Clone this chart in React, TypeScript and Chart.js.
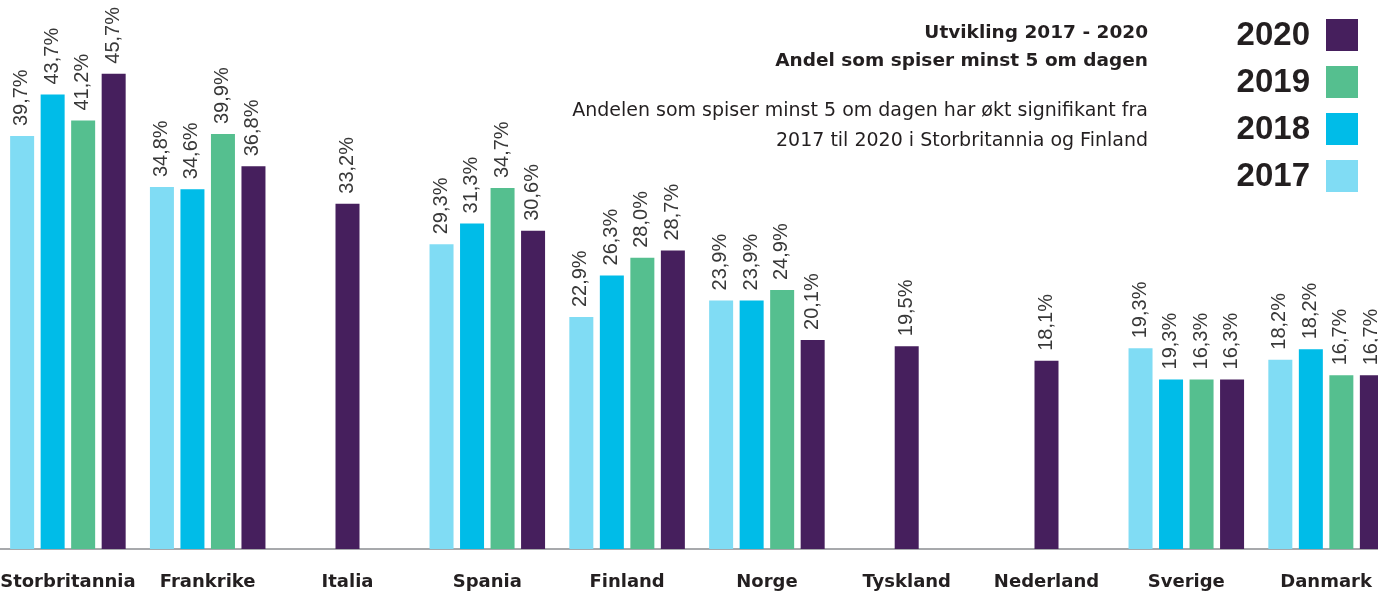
import React, { useEffect, useRef } from "react";
import { Chart, registerables } from "chart.js";

Chart.register(...registerables);

const categories = ["Storbritannia", "Frankrike", "Italia", "Spania", "Finland", "Norge", "Tyskland", "Nederland", "Sverige", "Danmark"];
const years = ["2017", "2018", "2019", "2020"];

// Bar heights as drawn
const values2017 = [39.7, 34.8, null, 29.3, 22.3, 23.9, null, null, 19.3, 18.2];
const values2018 = [43.7, 34.6, null, 31.3, 26.3, 23.9, null, null, 16.3, 19.2];
const values2019 = [41.2, 39.9, null, 34.7, 28.0, 24.9, null, null, 16.3, 16.7];
const values2020 = [45.7, 36.8, 33.2, 30.6, 28.7, 20.1, 19.5, 18.1, 16.3, 16.7];

// Value labels as printed
const labels2017 = ["39,7%", "34,8%", null, "29,3%", "22,9%", "23,9%", null, null, "19,3%", "18,2%"];
const labels2018 = ["43,7%", "34,6%", null, "31,3%", "26,3%", "23,9%", null, null, "19,3%", "18,2%"];
const labels2019 = ["41,2%", "39,9%", null, "34,7%", "28,0%", "24,9%", null, null, "16,3%", "16,7%"];
const labels2020 = ["45,7%", "36,8%", "33,2%", "30,6%", "28,7%", "20,1%", "19,5%", "18,1%", "16,3%", "16,7%"];

const titleLines = ["Utvikling 2017 - 2020", "Andel som spiser minst 5 om dagen"];
const noteLines = ["Andelen som spiser minst 5 om dagen har økt signifikant fra", "2017 til 2020 i Storbritannia og Finland"];

const colors = ["#80dcf4", "#00bce8", "#55bf8f", "#461f5d"];
const TEXT = "#231f20";
const SHIFT = 2; // container shifted left

export default function App() {
  const ref = useRef<HTMLCanvasElement | null>(null);

  useEffect(() => {
    document.body.style.margin = "0";
    document.body.style.overflow = "hidden";
    const valueSets = [values2017, values2018, values2019, values2020];
    const labelSets = [labels2017, labels2018, labels2019, labels2020];

    const valueLabelPlugin = {
      id: "valueLabels",
      afterDatasetsDraw(chart: any) {
        const ctx = chart.ctx;
        ctx.save();
        ctx.fillStyle = "#383838";
        ctx.font = "20px 'Liberation Sans', Arial, sans-serif";
        ctx.textAlign = "left";
        ctx.textBaseline = "alphabetic";
        chart.data.datasets.forEach((ds: any, di: number) => {
          const meta = chart.getDatasetMeta(di);
          meta.data.forEach((el: any, i: number) => {
            const lbl = labelSets[di][i];
            if (lbl == null || ds.data[i] == null) return;
            ctx.save();
            ctx.translate(el.x + 5, el.y - 10);
            ctx.rotate(-Math.PI / 2);
            ctx.fillText(lbl, 0, 0);
            ctx.restore();
          });
        });
        ctx.restore();
      },
    };

    const annotationPlugin = {
      id: "annotations",
      afterDraw(chart: any) {
        const ctx = chart.ctx;
        ctx.save();
        // category labels under the axis, placed by the x scale
        const xs = chart.scales.x;
        ctx.fillStyle = TEXT;
        ctx.textAlign = "center";
        ctx.textBaseline = "middle";
        ctx.font = "bold 18px 'DejaVu Sans', sans-serif";
        categories.forEach((c, i) => {
          ctx.fillText(c, xs.getPixelForTick(i), 582);
        });

        ctx.textAlign = "right";
        ctx.font = "bold 18.5px 'DejaVu Sans', sans-serif";
        ctx.fillText(titleLines[0], 1148 + SHIFT, 33);
        ctx.fillText(titleLines[1], 1148 + SHIFT, 61);
        ctx.font = "19px 'DejaVu Sans', sans-serif";
        ctx.fillText(noteLines[0], 1148 + SHIFT, 111);
        ctx.fillText(noteLines[1], 1148 + SHIFT, 141);

        // legend, newest on top
        ctx.font = "bold 33px 'Liberation Sans', Arial, sans-serif";
        const n = chart.data.datasets.length;
        for (let k = 0; k < n; k++) {
          const di = n - 1 - k;
          const ds = chart.data.datasets[di];
          const cy = 35 + k * 47;
          ctx.fillStyle = TEXT;
          ctx.fillText(ds.label, 1310 + SHIFT, cy + 1);
          ctx.fillStyle = ds.backgroundColor;
          ctx.fillRect(1326 + SHIFT, cy - 16, 32, 32);
        }
        ctx.restore();
      },
    };

    const chart = new Chart(ref.current as HTMLCanvasElement, {
      type: "bar",
      data: {
        labels: categories,
        datasets: years.map((y, i) => ({
          label: y,
          data: valueSets[i],
          backgroundColor: colors[i],
          borderWidth: 0,
          skipNull: true,
          categoryPercentage: 0.873,
          barPercentage: 0.787,
          maxBarThickness: 24,
        })),
      },
      options: {
        animation: false,
        responsive: true,
        maintainAspectRatio: false,
        layout: { padding: { top: 29, bottom: 45, left: 0, right: 0 } },
        plugins: {
          legend: { display: false },
          tooltip: { enabled: false },
          title: { display: false },
        },
        scales: {
          x: {
            grid: { display: false, drawTicks: false },
            border: { display: true, color: "#a7a9ac", width: 2 },
            ticks: { display: false },
          },
          y: {
            display: false,
            min: 0,
            max: 50,
          },
        },
      },
      plugins: [valueLabelPlugin, annotationPlugin],
    });
    return () => chart.destroy();
  }, []);

  return (
    <div style={{ position: "fixed", top: 0, left: -SHIFT, width: 1398, height: 594, background: "#fff" }}>
      <canvas ref={ref} />
    </div>
  );
}
